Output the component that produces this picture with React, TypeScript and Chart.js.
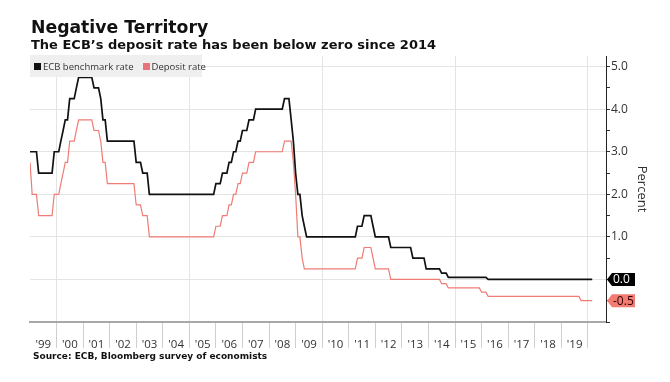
import React, { useEffect, useRef } from 'react';
import { Chart, registerables } from 'chart.js';
Chart.register(...registerables);

const TITLE = 'Negative Territory';
const SUBTITLE = 'The ECB’s deposit rate has been below zero since 2014';
const SOURCE = 'Source: ECB, Bloomberg survey of economists';
const SERIES_NAMES = ['ECB benchmark rate', 'Deposit rate'];
const SERIES_COLORS = ['#111111', '#f07c75'];
const LEGEND_COLORS = ['#111111', '#e8737a'];
const Y_AXIS_TITLE = 'Percent';

// ECB main refinancing rate: date the rate took effect, rate (%)
const ECB_DATES = ['1999-01-01','1999-04-09','1999-11-05','2000-02-04','2000-03-17','2000-04-28','2000-06-09','2000-09-01','2000-10-06','2001-05-11','2001-08-31','2001-09-18','2001-11-09','2002-12-06','2003-03-07','2003-06-06','2005-12-06','2006-03-08','2006-06-15','2006-08-09','2006-10-11','2006-12-13','2007-03-14','2007-06-13','2008-07-09','2008-10-15','2008-11-12','2008-12-10','2009-01-21','2009-03-11','2009-04-08','2009-05-13','2011-04-13','2011-07-13','2011-11-09','2011-12-14','2012-07-11','2013-05-08','2013-11-13','2014-06-11','2014-09-10','2016-03-16','2020-02-29'];
const ECB_RATES = [3.0,2.5,3.0,3.25,3.5,3.75,4.25,4.5,4.75,4.5,4.25,3.75,3.25,2.75,2.5,2.0,2.25,2.5,2.75,3.0,3.25,3.5,3.75,4.0,4.25,3.75,3.25,2.5,2.0,1.5,1.25,1.0,1.25,1.5,1.25,1.0,0.75,0.5,0.25,0.15,0.05,0.0,0.0];

// ECB deposit facility rate: date the rate took effect, rate (%)
const DEP_DATES = ['1999-01-01','1999-01-22','1999-04-09','1999-11-05','2000-02-04','2000-03-17','2000-04-28','2000-06-09','2000-09-01','2000-10-06','2001-05-11','2001-08-31','2001-09-18','2001-11-09','2002-12-06','2003-03-07','2003-06-06','2005-12-06','2006-03-08','2006-06-15','2006-08-09','2006-10-11','2006-12-13','2007-03-14','2007-06-13','2008-07-09','2008-11-12','2008-12-10','2009-01-21','2009-03-11','2009-04-08','2011-04-13','2011-07-13','2011-11-09','2011-12-14','2012-07-11','2014-06-11','2014-09-10','2015-12-09','2016-03-16','2019-09-18','2020-02-29'];
const DEP_RATES = [2.75,2.0,1.5,2.0,2.25,2.5,2.75,3.25,3.5,3.75,3.5,3.25,2.75,2.25,1.75,1.5,1.0,1.25,1.5,1.75,2.0,2.25,2.5,2.75,3.0,3.25,2.75,2.0,1.0,0.5,0.25,0.5,0.75,0.5,0.25,0.0,-0.1,-0.2,-0.3,-0.4,-0.5,-0.5];

const X_LABELS = ["'99","'00","'01","'02","'03","'04","'05","'06","'07","'08","'09","'10","'11","'12","'13","'14","'15","'16","'17","'18","'19"];
const X_FIRST_YEAR = 1999;
const X_MAX = 2020.68;
const Y_TICKS = [-1,-0.5,0,0.5,1,1.5,2,2.5,3,3.5,4,4.5,5];
const Y_MIN = -1;
const Y_MAX = 5.25;

const msToYear = (ms: number) => {
  const y = new Date(ms).getUTCFullYear();
  const start = Date.UTC(y, 0, 1);
  const end = Date.UTC(y + 1, 0, 1);
  return y + (ms - start) / (end - start);
};
const dateMs = (s: string) => {
  const [y, m, d] = s.split('-').map(Number);
  return Date.UTC(y, m - 1, d);
};

// Month-end observations of the policy rate in effect (as the source series is plotted)
const buildSeries = (dates: string[], rates: number[]) => {
  const ms = dates.map(dateMs);
  const endMs = ms[ms.length - 1];
  const rateAt = (t: number) => {
    let v = rates[0];
    for (let i = 0; i < ms.length; i++) {
      if (ms[i] <= t) v = rates[i];
      else break;
    }
    return v;
  };
  const pts = [{ x: msToYear(ms[0]), y: rates[0] }];
  const startYear = new Date(ms[0]).getUTCFullYear();
  for (let k = 0; ; k++) {
    const t = Date.UTC(startYear, k + 1, 0);
    if (t > endMs) break;
    pts.push({ x: msToYear(t), y: rateAt(t) });
  }
  return pts;
};

const endLabels = {
  id: 'endLabels',
  afterDraw(chart: any) {
    const { ctx, chartArea, scales } = chart;
    const items = [
      { v: DEP_RATES[DEP_RATES.length - 1], bg: '#f27b72', fg: '#2a0000' },
      { v: ECB_RATES[ECB_RATES.length - 1], bg: '#000000', fg: '#ffffff' },
    ];
    ctx.save();
    items.forEach((it) => {
      const y = scales.y.getPixelForValue(it.v);
      const x = chartArea.right + 1;
      const h = 13, w = 28, a = 5;
      ctx.beginPath();
      ctx.moveTo(x, y);
      ctx.lineTo(x + a, y - h / 2);
      ctx.lineTo(x + w, y - h / 2);
      ctx.lineTo(x + w, y + h / 2);
      ctx.lineTo(x + a, y + h / 2);
      ctx.closePath();
      ctx.fillStyle = it.bg;
      ctx.fill();
      ctx.fillStyle = it.fg;
      ctx.font = '12px "Open Sans"';
      ctx.textAlign = 'left';
      ctx.textBaseline = 'middle';
      ctx.fillText(it.v.toFixed(1), x + 6, y + 0.5);
    });
    ctx.restore();
  },
};

export default function App() {
  const ref = useRef<HTMLCanvasElement | null>(null);

  useEffect(() => {
    if (!ref.current) return;
    const chart = new Chart(ref.current, {
      type: 'line',
      data: {
        datasets: [
          {
            label: SERIES_NAMES[0],
            data: buildSeries(ECB_DATES, ECB_RATES),
            borderColor: SERIES_COLORS[0],
            borderWidth: 1.7,
            pointRadius: 0,
            fill: false,
            tension: 0,
          },
          {
            label: SERIES_NAMES[1],
            data: buildSeries(DEP_DATES, DEP_RATES),
            borderColor: SERIES_COLORS[1],
            borderWidth: 1.2,
            pointRadius: 0,
            fill: false,
            tension: 0,
          },
        ],
      },
      options: {
        responsive: false,
        animation: false,
        devicePixelRatio: 1,
        layout: { padding: { left: 30, top: 56, right: 0, bottom: 0 } },
        plugins: { legend: { display: false }, tooltip: { enabled: false } },
        scales: {
          x: {
            type: 'linear',
            min: X_FIRST_YEAR,
            max: X_MAX,
            afterBuildTicks: (s: any) => {
              s.ticks = X_LABELS.concat(['']).map((_, i) => ({ value: X_FIRST_YEAR + i }));
            },
            afterFit: (s: any) => { s.height = 60; },
            grid: {
              color: (c: any) => (c.tick && c.tick.value % 5 === 0 ? '#e4e4e4' : 'rgba(0,0,0,0)'),
              tickColor: (c: any) => (c.tick && c.tick.value === X_FIRST_YEAR ? 'rgba(0,0,0,0)' : '#cfcfcf'),
              tickLength: 26,
              lineWidth: 1,
            },
            border: { color: '#a8a8a8', width: 2 },
            ticks: {
              autoSkip: false,
              maxRotation: 0,
              padding: -10,
              labelOffset: 13.3,
              color: '#333',
              font: { family: '"Open Sans"', size: 11.5 },
              callback: (v: any, i: number) => X_LABELS[i] ?? '',
            },
          },
          y: {
            type: 'linear',
            position: 'right',
            min: Y_MIN,
            max: Y_MAX,
            afterBuildTicks: (s: any) => {
              s.ticks = Y_TICKS.map((v) => ({ value: v }));
            },
            afterFit: (s: any) => { s.width = 64; },
            grid: {
              color: (c: any) => (c.tick && Number.isInteger(c.tick.value) && c.tick.value > Y_MIN ? '#e4e4e4' : 'rgba(0,0,0,0)'),
              tickColor: '#333',
              tickLength: 4,
            },
            border: { color: '#222', width: 1 },
            ticks: {
              padding: 1,
              color: '#333',
              font: { family: '"Open Sans"', size: 12 },
              callback: (v: any) => (Number.isInteger(v) && v >= 1 ? Number(v).toFixed(1) : ''),
            },
            title: {
              display: true,
              text: Y_AXIS_TITLE,
              color: '#333',
              font: { family: '"Open Sans"', size: 13 },
              padding: { top: 20, bottom: 0 },
            },
          },
        },
      },
      plugins: [endLabels],
    } as any);
    return () => chart.destroy();
  }, []);

  const sq = (color: string) => (
    <span style={{ display: 'inline-block', flexShrink: 0, width: 7, height: 7, background: color, marginRight: 2 }} />
  );

  return (
    <div style={{ position: 'absolute', left: 0, top: 0, width: 670, height: 382, background: '#fff', overflow: 'hidden' }}>
      <canvas ref={ref} width={670} height={382} style={{ position: 'absolute', left: 0, top: 0, width: 670, height: 382 }} />
      <div style={{ position: 'absolute', left: 31, top: 17, font: 'bold 17.25px "DejaVu Sans"', lineHeight: '20px', color: '#111', whiteSpace: 'nowrap' }}>{TITLE}</div>
      <div style={{ position: 'absolute', left: 31, top: 36.5, font: 'bold 13px "DejaVu Sans"', lineHeight: '16px', color: '#111', whiteSpace: 'nowrap' }}>{SUBTITLE}</div>
      <div style={{ position: 'absolute', left: 30, top: 55, width: 172, height: 22, background: '#efefef', display: 'flex', alignItems: 'center', paddingLeft: 4, boxSizing: 'border-box', font: '9.5px "Open Sans"', color: '#333', whiteSpace: 'nowrap' }}>
        {sq(LEGEND_COLORS[0])}<span>{SERIES_NAMES[0]}</span>
        <span style={{ width: 9, flexShrink: 0, display: 'inline-block' }} />
        {sq(LEGEND_COLORS[1])}<span>{SERIES_NAMES[1]}</span>
      </div>
      <div style={{ position: 'absolute', left: 33, top: 350, font: 'bold 9px "DejaVu Sans"', lineHeight: '12px', color: '#111', whiteSpace: 'nowrap' }}>{SOURCE}</div>
    </div>
  );
}
